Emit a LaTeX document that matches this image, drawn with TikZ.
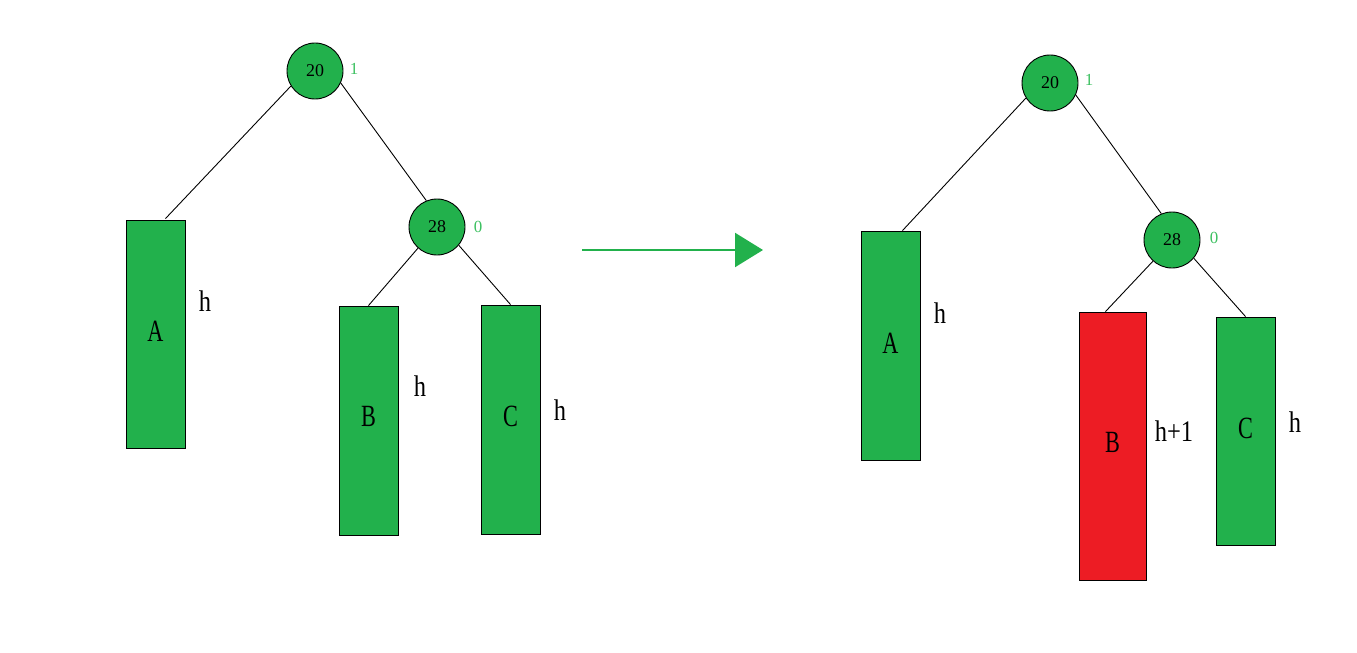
\documentclass[tikz,border=0pt]{standalone}
\usepackage{fontspec}
\setmainfont{Liberation Serif}
\newfontfamily\narrowfont[FakeStretch=0.72]{Liberation Serif}
\newfontfamily\hfont[FakeStretch=0.82]{Liberation Serif}
\usetikzlibrary{arrows.meta}
\definecolor{pgreen}{HTML}{22B14C}
\definecolor{pred}{HTML}{ED1C24}
\definecolor{lgreen}{HTML}{3CC060}
\tikzset{
  x=1bp, y=-1bp,
  tnode/.style={circle, draw=black, fill=pgreen, line width=0.9bp, minimum size=56bp, inner sep=0pt, font=\fontsize{18}{18}\selectfont},
  bf/.style={text=lgreen, font=\fontsize{17}{17}\selectfont},
  subtree/.style={draw=black, fill=pgreen, line width=0.9bp, minimum width=59bp, inner sep=0pt, font=\narrowfont\fontsize{31}{31}\selectfont},
  hlbl/.style={font=\hfont\fontsize{30}{30}\selectfont},
  edge/.style={draw=black, line width=0.9bp}
}
\begin{document}
\begin{tikzpicture}
\useasboundingbox (0,0) rectangle (1357,653);
% left tree
\node[tnode] (l20) at (315,71) {20};
\node[bf] (l20b) at (354,69) {1};
\node[tnode] (l28) at (437,227) {28};
\node[bf] (l28b) at (478,227) {0};
\node[subtree, minimum height=228bp] (lA) at (155.5,334) {\raisebox{5bp}{A}};
\node[hlbl] (lAh) at (205,301) {h};
\node[subtree, minimum height=229bp] (lB) at (368.5,420.5) {\raisebox{8bp}{B}};
\node[hlbl] (lBh) at (420,386) {h};
\node[subtree, minimum height=229bp] (lC) at (510.5,419.5) {\raisebox{6bp}{C}};
\node[hlbl] (lCh) at (560,410) {h};
\draw[edge] (lA.north) ++(10,-1) coordinate (lAt) (lAt) -- (l20.212);
\draw[edge] (l20.-25) -- (l28.112);
\draw[edge] (lB.north) -- (l28.228);
\draw[edge] (lC.north) -- (l28.-40);
% arrow
\coordinate (arrS) at (582,250);
\coordinate (arrE) at (763,250);
\draw[pgreen, line width=2.2bp, -{Triangle[length=28bp, width=34bp]}] (arrS) -- (arrE);
% right tree
\node[tnode] (r20) at (1050,83) {20};
\node[bf] (r20b) at (1089,80) {1};
\node[tnode] (r28) at (1172,240) {28};
\node[bf] (r28b) at (1214,238) {0};
\node[subtree, minimum height=229bp] (rA) at (890.5,345.5) {\raisebox{5bp}{A}};
\node[hlbl] (rAh) at (940,313) {h};
\node[subtree, fill=pred, minimum width=67bp, minimum height=268bp] (rB) at (1112.5,446) {\raisebox{8bp}{B}};
\node[hlbl] (rBh) at (1174,431) {h+1};
\node[subtree, minimum height=228bp] (rC) at (1245.5,431) {\raisebox{6bp}{C}};
\node[hlbl] (rCh) at (1295,422) {h};
\draw[edge] (rA.north) ++(12,0) coordinate (rAt) (rAt) -- (r20.212);
\draw[edge] (r20.-25) -- (r28.112);
\draw[edge] (rB.north) ++(-7,0) coordinate (rBt) (rBt) -- (r28.228);
\draw[edge] (rC.north) -- (r28.-40);
\end{tikzpicture}
\end{document}
